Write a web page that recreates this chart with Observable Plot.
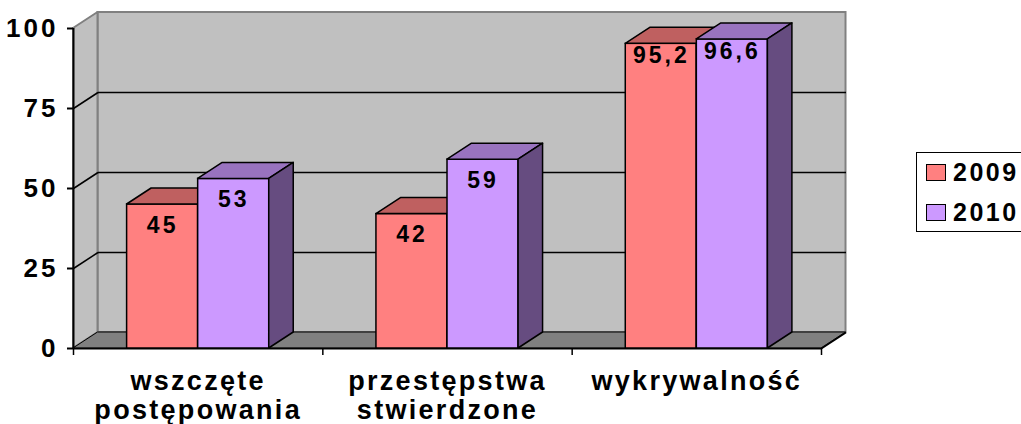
<!DOCTYPE html>
<html>
<head>
<meta charset="utf-8">
<script src="https://cdn.jsdelivr.net/npm/d3@7"></script>
<script src="https://cdn.jsdelivr.net/npm/@observablehq/plot@0.6"></script>
<style>
  html, body { margin: 0; padding: 0; background: #fff; }
  #wrap { position: relative; width: 1021px; height: 424px; overflow: hidden; }
  #legend {
    position: absolute; left: 916px; top: 152px; width: 130px; height: 80px;
    border: 1.5px solid #000; background: #fff; box-sizing: border-box;
    font-family: "Liberation Sans", Arial, sans-serif; font-weight: bold; font-size: 25px;
    letter-spacing: 2.5px;
  }
  .row { position: absolute; left: 9px; display: flex; align-items: center; }
  .sw { width: 18px; height: 15px; border: 1.5px solid #000; margin-right: 7px; }
</style>
</head>
<body>
<div id="wrap"></div>
<script>
// ---- data ----
const categories = ["wszczęte\npostępowania", "przestępstwa\nstwierdzone", "wykrywalność"];
const years = ["2009", "2010"];
const values2009 = [45, 42, 95.2];
const values2010 = [53, 59, 96.6];
const yTicks = [0, 25, 50, 75, 100];

// ---- styles ----
const frontColors = ["#FF8080", "#CC99FF"];
const topColors = ["#BF6060", "#9973BF"];
const sideColors = ["#BF6060", "#664C80"];
const font = "Liberation Sans, Arial, sans-serif";

// geometry (in data units)
const barW = 0.285;      // bar width as fraction of a category band
const depthX = 0.0983;   // depth offset in x units
const depthY = 5;        // depth offset in y units

const seriesValues = [values2009, values2010];
const rows = [];
seriesValues.forEach((vals, s) => vals.forEach((v, c) => {
  const x1 = c + 0.5 - barW * years.length / 2 + s * barW;
  rows.push({cat: c, s, year: years[s], value: v, x1, x2: x1 + barW, id: `${s}-${c}`});
}));

const topPts = rows.flatMap(r => [
  {id: r.id, s: r.s, y: r.value, x1: r.x1, x2: r.x2},
  {id: r.id, s: r.s, y: r.value + depthY, x1: r.x1 + depthX, x2: r.x2 + depthX}
]);
const sidePts = rows.flatMap(r => [
  {id: r.id, s: r.s, x: r.x2, y1: 0, y2: r.value},
  {id: r.id, s: r.s, x: r.x2 + depthX, y1: depthY, y2: r.value + depthY}
]);

const nCat = categories.length;
const fmt = v => String(v).replace(".", ",");

const barMarks = years.flatMap((yr, s) => [
  Plot.rect(rows.filter(r => r.s === s), {x1: "x1", x2: "x2", y1: 0, y2: "value",
    fill: frontColors[s], stroke: "#000", strokeWidth: 1.5}),
  Plot.areaX(topPts.filter(p => p.s === s), {y: "y", x1: "x1", x2: "x2", z: "id",
    fill: topColors[s], stroke: "#000", strokeWidth: 1.5, curve: "linear"}),
  Plot.areaY(sidePts.filter(p => p.s === s), {x: "x", y1: "y1", y2: "y2", z: "id",
    fill: sideColors[s], stroke: "#000", strokeWidth: 1.5, curve: "linear"})
]);

const gridT = yTicks.filter(t => t > 0 && t < 100);

const chart = Plot.plot({
  width: 1021,
  height: 424,
  marginLeft: 73,
  marginRight: 200,
  marginTop: 12,
  marginBottom: 76,
  style: {fontFamily: font, background: "transparent", overflow: "visible"},
  x: {type: "linear", domain: [0, nCat], range: [73, 821], axis: null},
  y: {type: "linear", domain: [0, 100 + depthY], axis: null},
  marks: [
    // back wall
    Plot.rect([0], {x1: depthX, x2: nCat + depthX, y1: depthY, y2: 100 + depthY,
      fill: "#C0C0C0", stroke: "#808080", strokeWidth: 2}),
    // left wall
    Plot.areaY([{x: 0, y1: 0, y2: 100}, {x: depthX, y1: depthY, y2: 100 + depthY}],
      {x: "x", y1: "y1", y2: "y2", fill: "#C0C0C0", stroke: "#808080", strokeWidth: 2}),
    // floor
    Plot.areaX([{y: 0, x1: 0, x2: nCat}, {y: depthY, x1: depthX, x2: nCat + depthX}],
      {y: "y", x1: "x1", x2: "x2", fill: "#808080", stroke: "#000", strokeWidth: 1}),
    // gridlines on left wall and back wall
    Plot.link(gridT, {x1: 0, y1: d => d, x2: depthX, y2: d => d + depthY, stroke: "#000", strokeWidth: 1.5}),
    Plot.link(gridT, {x1: depthX, y1: d => d + depthY, x2: nCat + depthX, y2: d => d + depthY, stroke: "#000", strokeWidth: 1.5}),
    // front axis lines
    Plot.ruleY([0], {x1: 0, x2: nCat, stroke: "#000", strokeWidth: 2}),
    Plot.ruleX([0], {y1: 0, y2: 100, stroke: "#000", strokeWidth: 2}),
    Plot.link([nCat], {x1: d => d, y1: 0, x2: d => d + depthX, y2: depthY, stroke: "#000", strokeWidth: 1.5}),
    // x ticks
    Plot.axisX({ticks: d3.range(nCat + 1), tickSize: 7, tickFormat: () => "", anchor: "bottom",
      label: null, stroke: "#000", strokeWidth: 1.5}),
    // y axis
    Plot.axisY({ticks: yTicks, tickSize: 6, tickPadding: 9, tickFormat: d => String(d), anchor: "left",
      fontSize: 26, fontWeight: "bold", label: null, stroke: "#000", strokeWidth: 2, fill: "#000"}),
    // bars
    ...barMarks,
    // value labels
    Plot.text(rows, {filter: r => r.value < 90, x: r => (r.x1 + r.x2) / 2, y: "value", text: r => fmt(r.value),
      dy: 21, fontSize: 23, fontWeight: "bold", fill: "#000"}),
    Plot.text(rows, {filter: r => r.value >= 90, x: r => (r.x1 + r.x2) / 2, y: "value", text: r => fmt(r.value),
      dy: 12, fontSize: 23, fontWeight: "bold", fill: "#000"}),
    // category labels
    Plot.text(categories, {x: (d, i) => i + 0.5, y: 0, text: d => d, lineAnchor: "top", dy: 20,
      lineHeight: 1.1, fontSize: 27, fontWeight: "bold", fill: "#000"})
  ]
});
const tickSet = new Set(yTicks.map(String));
chart.querySelectorAll("text").forEach(t => {
  const s = t.textContent;
  if (/[a-ząćęłńóśźż]/.test(s)) t.style.letterSpacing = "2.3px";
  else if (tickSet.has(s) && t.closest("g[aria-label='y-axis tick label']")) {
    t.style.letterSpacing = "3px"; t.style.fontSize = "26px";
  }
  else if (s.includes(",") || /^\d\d$/.test(s)) t.style.letterSpacing = "3px";
});
document.getElementById("wrap").appendChild(chart);

// legend
const lg = document.createElement("div");
lg.id = "legend";
years.forEach((yr, s) => {
  const row = document.createElement("div");
  row.className = "row";
  row.style.top = (s === 0 ? 5 : 45) + "px";
  const sw = document.createElement("div");
  sw.className = "sw";
  sw.style.background = frontColors[s];
  const tx = document.createElement("span");
  tx.textContent = yr;
  row.appendChild(sw); row.appendChild(tx);
  lg.appendChild(row);
});
document.getElementById("wrap").appendChild(lg);
</script>
</body>
</html>
